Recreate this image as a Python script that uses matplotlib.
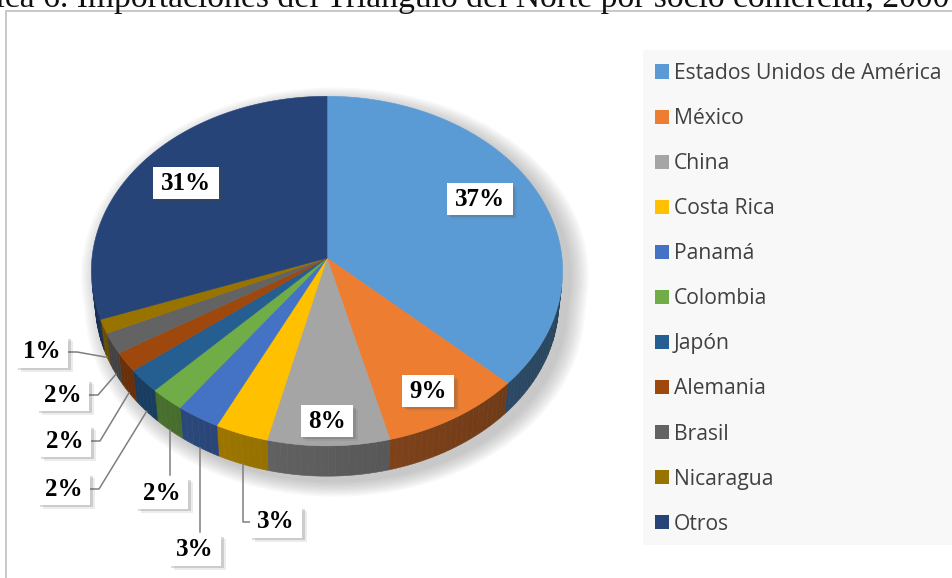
import numpy as np
import matplotlib.pyplot as plt
import matplotlib.patheffects as pe
from matplotlib.patches import Polygon, Rectangle, Patch
from matplotlib.colors import to_rgb

socios = ['Estados Unidos de América', 'México', 'China', 'Costa Rica', 'Panamá',
          'Colombia', 'Japón', 'Alemania', 'Brasil', 'Nicaragua', 'Otros']
valores = [37.0, 9.0, 7.8, 3.4, 2.8, 2.2, 2.2, 1.8, 1.9, 1.3, 30.6]
colores = ['#5B9BD5', '#ED7D31', '#A5A5A5', '#FFC000', '#4472C4',
           '#70AD47', '#255E91', '#9E480E', '#636363', '#997300', '#264478']

# label layout (pixel centres) and how the leader is drawn
lab_pos = [(480, 199), (428, 391), (327, 421), (276, 522), (195, 550), (162, 493),
           (64, 489), (65, 441), (63, 395), (42, 352), (186, 183)]
lab_kind = ['in', 'in', 'in', 'right', 'down', 'down', 'left', 'left', 'left', 'left', 'in']

# camera for the fake 3d pie
A = np.radians(47.7)
DIST = 9.0
FOC = 2115
H = 0.2
CX, CY = 327, 258


def proj(phi, r=1.0, y=0.0):
    # phi: degrees clockwise from the back of the pie (12 o'clock)
    phi = np.radians(phi)
    x = r * np.sin(phi)
    z = -r * np.cos(phi)
    sy = y * np.cos(A) - z * np.sin(A)
    d = DIST - (y * np.sin(A) + z * np.cos(A))
    return CX + FOC * x / d, CY - FOC * sy / d


def arc(p1, p2, y=0.0, step=1.0):
    n = max(2, int(abs(p2 - p1) / step) + 1)
    ph = np.linspace(p1, p2, n)
    xs, ys = proj(ph, 1.0, y)
    return np.column_stack([xs, ys])


fig = plt.figure(figsize=(9.52, 5.78), dpi=100)
ax = fig.add_axes([0, 0, 1, 1])
ax.set_xlim(0, 952)
ax.set_ylim(578, 0)
ax.axis('off')

ax.add_patch(Rectangle((6, 11), 1000, 600, fc='white', ec='#BFBFBF', lw=1.2, zorder=0))
fig.text(-0.0695, 1 - 7 / 578, 'Gráfica 6. Importaciones del Triángulo del Norte por socio comercial, 2000-2016',
         fontsize=24.2, family='Liberation Serif', va='baseline', ha='left', color='#111111')

# visible part of the side wall
zlim = 1 / (DIST * np.cos(A))
lo = np.degrees(np.arccos(-zlim))
hi = 360 - lo

# soft shadow
sil = np.vstack([arc(hi, lo + 360, 0.0), arc(lo, hi, -H)])
for k in range(12):
    s = 1 + 0.007 * k
    pts = (sil - [CX, CY + 30]) * s + [CX + 8, CY + 36]
    ax.add_patch(Polygon(pts, closed=True, fc='#7a7a7a', ec='none', alpha=0.04, zorder=1))

cum = np.concatenate([[0], np.cumsum(valores)]) / np.sum(valores) * 360

# side walls, small pieces so the shade can change around the pie
for i, c in enumerate(colores):
    p1, p2 = max(cum[i], lo), min(cum[i + 1], hi)
    if p2 <= p1:
        continue
    edges = np.linspace(p1, p2, max(2, int((p2 - p1) / 1.5) + 1))
    base = np.array(to_rgb(c))
    for a, b in zip(edges[:-1], edges[1:]):
        xm = np.sin(np.radians((a + b) / 2))
        f = 0.56 - 0.12 * xm
        col = np.clip(base * f, 0, 1)
        pts = np.vstack([arc(a, b, 0.0, 0.5), arc(b, a, -H, 0.5)])
        ax.add_patch(Polygon(pts, closed=True, fc=col, ec=col, lw=0.4, zorder=2))

# top faces
for i, c in enumerate(colores):
    pts = np.vstack([[CX, CY], arc(cum[i], cum[i + 1], 0.0)])
    ax.add_patch(Polygon(pts, closed=True, fc=c, ec=c, lw=0.4, zorder=3))

# data labels
for i, v in enumerate(valores):
    bx, by = lab_pos[i]
    mid = (cum[i] + cum[i + 1]) / 2
    axp, ayp = proj(mid, 1.0, -H)
    kind = lab_kind[i]
    if kind == 'left':
        ax.plot([axp, bx + 35, bx + 26], [ayp, by, by], color='#7F7F7F', lw=1.1, zorder=5)
    elif kind == 'right':
        ax.plot([axp, axp, bx - 26], [ayp, by, by], color='#7F7F7F', lw=1.1, zorder=5)
    elif kind == 'down':
        ax.plot([axp, axp], [ayp, by - 18], color='#7F7F7F', lw=1.1, zorder=5)
    t = ax.text(bx, by, f'{v:.0f}%', ha='center', va='center', fontsize=18, fontweight='bold',
                family='Liberation Serif', color='black', zorder=6,
                bbox=dict(boxstyle='square,pad=0.3', fc='white', ec='none', mutation_aspect=0.55))
    t.get_bbox_patch().set_path_effects([
        pe.SimplePatchShadow(offset=(3.5, -3.5), alpha=0.1),
        pe.SimplePatchShadow(offset=(2, -2), alpha=0.2),
        pe.Normal()])

# legend
ax.add_patch(Rectangle((643, 50), 400, 495, fc='#F8F8F8', ec='none', zorder=0.5))
handles = [Patch(fc=c, ec='none') for c in colores]
fig.legend(handles, socios, loc='upper left', bbox_to_anchor=(655 / 952, 1 - 63 / 578),
           frameon=False, prop={'family': 'Open Sans', 'size': 15.2}, labelcolor='#404040',
           handlelength=0.66, handleheight=0.66, handletextpad=0.24, labelspacing=1.14,
           borderpad=0, borderaxespad=0)

fig.savefig('out.png', dpi=100)
